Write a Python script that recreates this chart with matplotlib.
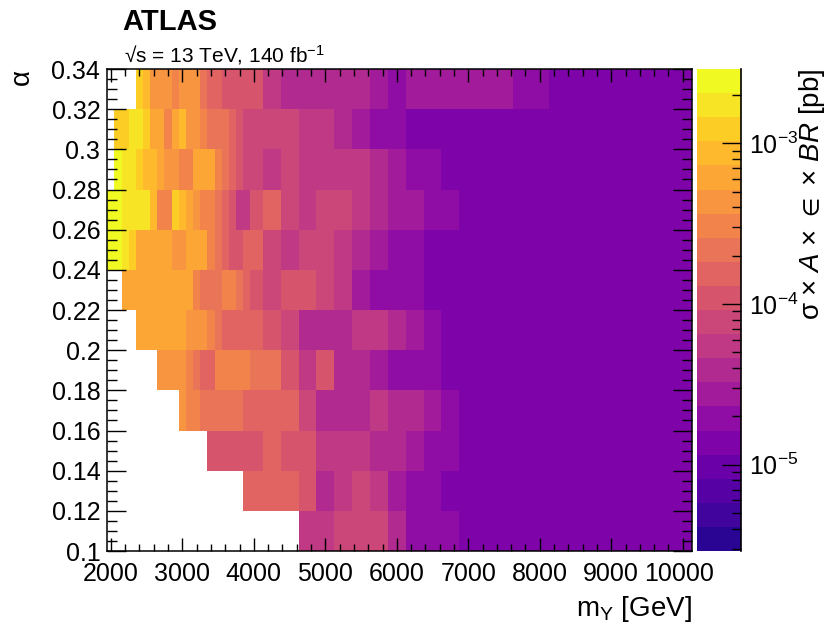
import numpy as np
import matplotlib
matplotlib.use('Agg')
import matplotlib.pyplot as plt
from matplotlib.colors import LogNorm, ListedColormap
from matplotlib.ticker import MultipleLocator, FormatStrFormatter

plt.rcParams['font.family'] = ['Liberation Sans', 'DejaVu Sans']
plt.rcParams['mathtext.fontset'] = 'custom'
plt.rcParams['mathtext.rm'] = 'Liberation Sans'
plt.rcParams['mathtext.it'] = 'Liberation Sans:italic'
plt.rcParams['mathtext.bf'] = 'Liberation Sans:bold'
plt.rcParams['mathtext.fallback'] = 'stixsans'

# signal mass points [GeV]: 100 GeV steps up to 3900, 250 GeV steps above
m_y = list(range(2000, 4000, 100)) + list(range(4000, 10001, 250))
alpha = [0.11, 0.13, 0.15, 0.17, 0.19, 0.21, 0.23, 0.25, 0.27, 0.29, 0.31, 0.33]

n = np.nan
# sigma x A x eff x BR in units of 1e-5 pb, one list per alpha (low -> high), one entry per m_y point
xs_011 = [n]*23 + [5.4, 5.4, 7.7, 7.7, 7.7, 3.8, 1.9, 1.9, 1.9] + [1.4]*13
xs_013 = [n]*19 + [15, 15, 15, 15, 11, 3.8, 5.4, 7.7, 5.4, 2.7, 1.9, 1.9] + [1.4]*14
xs_015 = [n]*14 + [11, 11, 11, 11, 11, 11, 11, 15, 11, 11, 5.4, 5.4, 5.4, 3.8, 3.8, 2.7, 1.9, 1.9] + [1.4]*13
xs_017 = [n]*10 + [43, 30, 30, 22, 22, 22, 22, 22, 22, 15, 15, 15, 15, 7.7, 3.8, 3.8, 3.8, 5.4, 3.8, 3.8,
                   2.7, 1.9] + [1.4]*13
xs_019 = [n]*7 + [43, 43, 43, 43, 30, 22, 15, 15, 30, 30, 30, 30, 30, 22, 22, 11, 5.4, 11, 3.8, 3.8, 2.7,
                  1.9, 1.9, 1.9] + [1.4]*14
xs_021 = [n]*4 + [61, 61, 61, 61, 61, 61, 61, 43, 43, 43, 30, 22, 15, 15, 15, 15, 15, 11, 7.7, 3.8, 3.8,
                  3.8, 5.4, 5.4, 3.8, 2.7, 1.9] + [1.4]*14
xs_023 = [n]*2 + [61, 61, 61, 61, 61, 61, 61, 61, 61, 61, 30, 22, 22, 22, 30, 30, 22, 15, 11, 7.7, 11, 11,
                  7.7, 5.4, 2.7, 1.9, 1.9, 1.9] + [1.4]*15
xs_025 = [250, 250, 170, 120, 61, 61, 61, 61, 61, 43, 43, 61, 61, 61, 30, 22, 15, 11, 11, 15, 15, 7.7, 5.4,
          7.7, 7.7, 5.4, 3.8, 2.7, 1.9, 1.9] + [1.4]*15
xs_027 = [280, 250, 170, 170, 170, 170, 86, 30, 30, 120, 86, 61, 43, 30, 30, 22, 15, 11, 5.4, 5.4, 11, 15,
          7.7, 5.4, 7.7, 7.7, 5.4, 3.8, 2.7, 2.7, 1.9, 1.9] + [1.4]*13
xs_029 = [n] + [250, 170, 170, 120, 86, 86, 61, 43, 43, 30, 30, 61, 61, 61, 30, 22, 15, 11, 7.7, 7.7, 5.4,
                7.7, 5.4, 5.4, 5.4, 5.4, 3.8, 2.7, 1.9, 1.9] + [1.4]*14
xs_031 = [n] + [120, 120, 170, 170, 120, 61, 61, 30, 61, 86, 43, 43, 30, 22, 22, 22, 15, 11, 7.7, 7.7, 7.7,
                7.7, 5.4, 5.4, 3.8, 2.7, 1.9, 1.9] + [1.4]*16
xs_033 = [n]*4 + [120, 86, 43, 43, 43, 30, 43, 43, 43, 22, 15, 15, 11, 11, 11, 11, 11, 5.4, 3.8, 3.8, 3.8,
                  3.8, 3.8, 2.7, 1.9, 2.7, 2.7, 2.7, 2.7, 2.7, 2.7, 1.9, 1.9] + [1.4]*8

z_max = 2.9e-3  # colour scale spans three decades below the maximum
x_ticks = [2000, 3000, 4000, 5000, 6000, 7000, 8000, 9000, 10000]

rows = [xs_011, xs_013, xs_015, xs_017, xs_019, xs_021, xs_023, xs_025, xs_027, xs_029, xs_031, xs_033]
z = np.ma.masked_invalid(np.array(rows, dtype=float) * 1e-5)

mx = np.array(m_y, dtype=float)
x_edges = np.concatenate([[mx[0] - (mx[1] - mx[0]) / 2], (mx[1:] + mx[:-1]) / 2,
                          [mx[-1] + (mx[-1] - mx[-2]) / 2]])
al = np.array(alpha)
y_edges = np.concatenate([al - 0.01, [al[-1] + 0.01]])

cmap = ListedColormap(plt.get_cmap('plasma')(np.linspace(0.05, 1.0, 20)))
cmap.set_bad('white')
norm = LogNorm(vmin=z_max * 1e-3, vmax=z_max)

fig = plt.figure(figsize=(8.29, 6.39), dpi=100)
ax = fig.add_axes([0.1294, 0.1377, 0.7050, 0.7543])
mesh = ax.pcolormesh(x_edges, y_edges, z, cmap=cmap, norm=norm, shading='flat')

ax.set_xlim(x_edges[0], x_edges[-1])
ax.set_ylim(0.1, 0.34)
ax.set_xticks(x_ticks)
# last label is drawn separately, nudged left as in the original
ax.set_xticklabels([str(t) for t in x_ticks[:-1]] + [''])
ax.annotate(str(x_ticks[-1]), xy=(x_ticks[-1], 0.1), xycoords='data', xytext=(-3, -8),
            textcoords='offset points', ha='center', va='top', fontsize=18)
ax.xaxis.set_minor_locator(MultipleLocator(200))
ax.set_yticks(np.arange(0.10, 0.3401, 0.02))
ax.yaxis.set_major_formatter(FormatStrFormatter('%g'))
ax.yaxis.set_minor_locator(MultipleLocator(0.005))
ax.tick_params(which='both', direction='in', top=True, right=True, width=1, labelsize=18)
ax.tick_params(axis='x', which='major', length=9.5, pad=8)
ax.tick_params(axis='x', which='minor', length=4.7)
ax.tick_params(axis='y', which='major', length=14, pad=5)
ax.tick_params(axis='y', which='minor', length=7)
for s in ax.spines.values():
    s.set_linewidth(1.1)

ax.set_xlabel('m$_{\\mathrm{Y}}$ [GeV]', fontsize=20, loc='right', labelpad=6)
ax.set_ylabel('α', fontsize=20, loc='top', labelpad=12)

cax = fig.add_axes([0.8408, 0.1377, 0.0531, 0.7543])
cb = fig.colorbar(mesh, cax=cax)
cb.outline.set_visible(False)
cax.plot([1, 1], [0, 1], transform=cax.transAxes, color='k', lw=1.2, clip_on=False)
cax.tick_params(which='major', direction='in', length=14, width=1, labelsize=18, pad=6)
cax.tick_params(which='minor', direction='in', length=6.5, width=1)
cb.set_label('σ × $A$ × $\\in$ × $BR$ [pb]', fontsize=20, loc='top')
cax.yaxis.set_label_coords(2.27, 1.0)

fig.text(0.148, 0.953, 'ATLAS', fontsize=21, fontweight='bold')
fig.text(0.150, 0.903, '√s = 13 TeV, 140 fb$^{-1}$', fontsize=15)

fig.savefig('out.png', dpi=100)
